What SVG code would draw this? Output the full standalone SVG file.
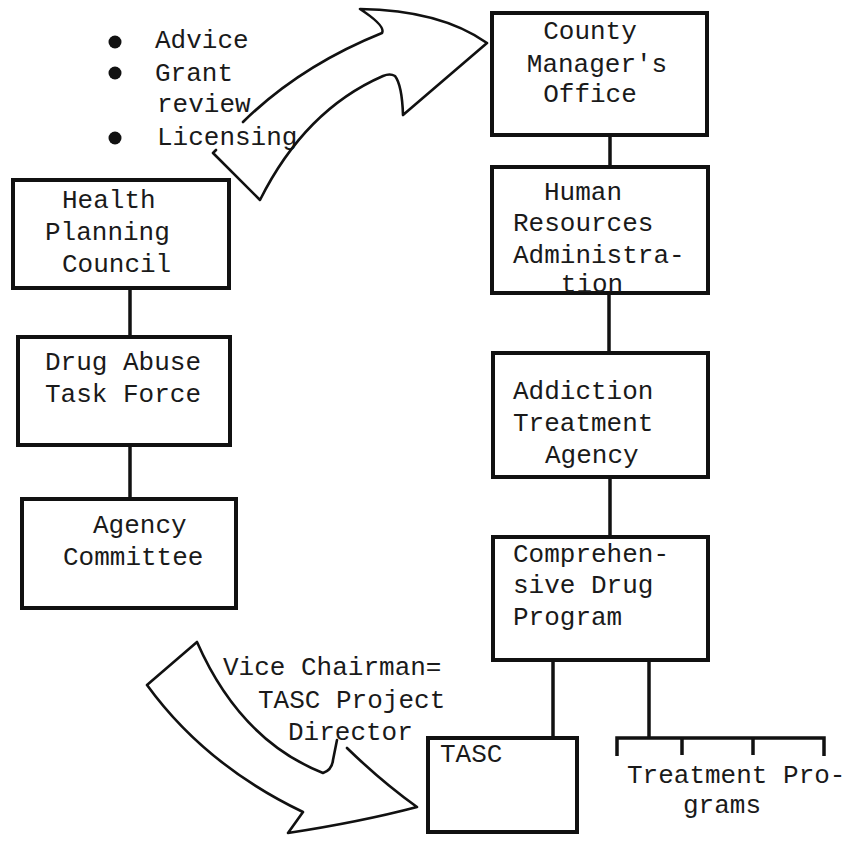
<svg xmlns="http://www.w3.org/2000/svg" width="856" height="842" viewBox="0 0 856 842">
<defs>
<style>
.box{fill:none;stroke:#111;stroke-width:4}
.con{fill:none;stroke:#111;stroke-width:3.5}
.arr{fill:none;stroke:#111;stroke-width:2.6;stroke-linejoin:round;stroke-linecap:round}
text{font-family:"Liberation Mono","DejaVu Sans Mono",monospace;font-size:26px;fill:#1a1a1a}
</style>
</defs>
<rect width="856" height="842" fill="#fff"/>

<g id="bullets">
<circle cx="115" cy="42" r="6.5" fill="#111"/>
<circle cx="115" cy="73" r="6.5" fill="#111"/>
<circle cx="115" cy="138" r="6.5" fill="#111"/>
<text x="155" y="48">Advice</text>
<text x="155" y="81">Grant</text>
<text x="157" y="112">review</text>
<text x="157" y="145">Licensing</text>
</g>

<g id="arrow-upper">
<path class="arr" d="M243,122 Q300,66 382,33 Q386,26 360,9 Q440,10 487,43 L403,115 Q402,85 395,76 Q390,73 383,76 Q305,110 260,200 L213,153 L216,150"/>
</g>

<g id="arrow-lower">
<path class="arr" d="M347,748 Q382,782 417,807 Q360,822 288,833 L303,812 Q205,765 147,685 L197,642 Q240,740 323,773 Q332,770 333,760 L337,740"/>
<text x="223" y="675">Vice Chairman=</text>
<text x="258" y="708">TASC Project</text>
<text x="288" y="740">Director</text>
</g>

<g id="connectors">
<line class="con" x1="610" y1="135" x2="610" y2="167"/>
<line class="con" x1="609" y1="293" x2="609" y2="353"/>
<line class="con" x1="610" y1="477" x2="610" y2="537"/>
<line class="con" x1="130" y1="288" x2="130" y2="337"/>
<line class="con" x1="130" y1="445" x2="130" y2="499"/>
<line class="con" x1="553" y1="660" x2="553" y2="738"/>
<line class="con" x1="649" y1="660" x2="649" y2="738"/>
<polyline class="con" points="617,756 617,738 824,738 824,756"/>
<line class="con" x1="682" y1="738" x2="682" y2="755"/>
<line class="con" x1="753" y1="738" x2="753" y2="755"/>
</g>

<g id="county-manager">
<rect class="box" x="492" y="13" width="215" height="122"/>
<text x="590" y="39" text-anchor="middle">County</text>
<text x="597" y="72" text-anchor="middle">Manager's</text>
<text x="590" y="102" text-anchor="middle">Office</text>
</g>

<g id="human-resources">
<rect class="box" x="492" y="167" width="216" height="126"/>
<text x="583" y="200" text-anchor="middle">Human</text>
<text x="513" y="231">Resources</text>
<text x="513" y="263">Administra-</text>
<text x="592" y="292" text-anchor="middle">tion</text>
</g>

<g id="addiction-treatment">
<rect class="box" x="493" y="353" width="215" height="124"/>
<text x="513" y="399">Addiction</text>
<text x="513" y="431">Treatment</text>
<text x="545" y="463">Agency</text>
</g>

<g id="comprehensive-drug">
<rect class="box" x="493" y="537" width="215" height="123"/>
<text x="513" y="562">Comprehen-</text>
<text x="513" y="593">sive Drug</text>
<text x="513" y="625">Program</text>
</g>

<g id="tasc">
<rect class="box" x="428" y="738" width="149" height="94"/>
<text x="440" y="762">TASC</text>
</g>

<g id="treatment-programs">
<text x="627" y="783">Treatment Pro-</text>
<text x="683" y="813">grams</text>
</g>

<g id="health-planning">
<rect class="box" x="13" y="180" width="216" height="108"/>
<text x="62" y="208">Health</text>
<text x="45" y="240">Planning</text>
<text x="62" y="272">Council</text>
</g>

<g id="drug-abuse">
<rect class="box" x="18" y="337" width="212" height="108"/>
<text x="45" y="370">Drug Abuse</text>
<text x="45" y="402">Task Force</text>
</g>

<g id="agency-committee">
<rect class="box" x="22" y="499" width="214" height="109"/>
<text x="93" y="533">Agency</text>
<text x="63" y="565">Committee</text>
</g>
</svg>
